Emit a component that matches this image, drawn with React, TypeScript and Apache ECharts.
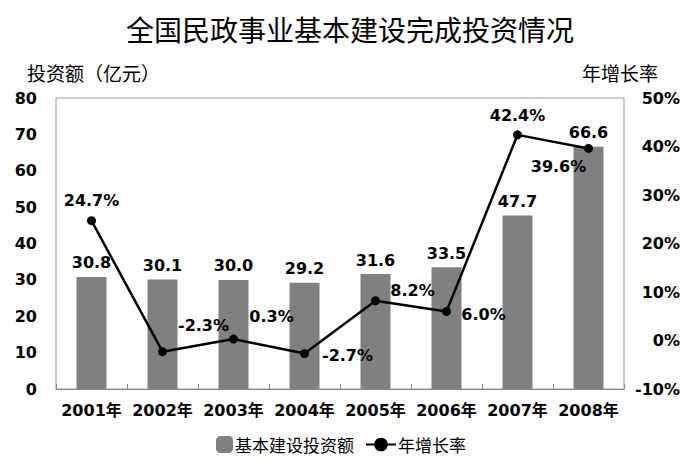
import React, { useEffect, useRef } from "react";
import * as echarts from "echarts";

const years = ["2001年", "2002年", "2003年", "2004年", "2005年", "2006年", "2007年", "2008年"];
const investment = [30.8, 30.1, 30.0, 29.2, 31.6, 33.5, 47.7, 66.6];
const growthRate = [24.7, -2.3, 0.3, -2.7, 8.2, 6.0, 42.4, 39.6];
const leftTicks = { min: 0, max: 80, interval: 10 };
const rightTicks = { min: -10, max: 50, interval: 10 };
const barName = "基本建设投资额";
const lineName = "年增长率";
const titleText = "全国民政事业基本建设完成投资情况";
const leftAxisName = "投资额（亿元）";
const rightAxisName = "年增长率";

const NUM_FONT = "'DejaVu Sans', 'Noto Sans CJK SC', sans-serif";
const CJK_FONT = "'Noto Sans CJK SC', sans-serif";

export default function App() {
  const ref = useRef<HTMLDivElement>(null);
  useEffect(() => {
    if (!ref.current) return;
    const chart = echarts.init(ref.current, null, { renderer: "svg" });
    // label offsets relative to each point (layout only)
    const labelOffsets: number[][] = [
      [0, -20], [41, -26], [38, -23], [43, 2], [37, -10], [37, 3], [0, -19], [-30, 18],
    ];
    const lineData = growthRate.map((v, i) => ({
      value: v,
      label: {
        show: true,
        position: "inside",
        offset: labelOffsets[i],
        formatter: (p: any) => Number(p.value).toFixed(1) + "%",
        fontFamily: NUM_FONT,
        fontWeight: "bold",
        fontSize: 16,
        color: "#000",
      },
    }));
    chart.setOption({
      animation: false,
      backgroundColor: "#fff",
      title: {
        text: titleText,
        left: "center",
        top: 10,
        textStyle: { fontFamily: CJK_FONT, fontSize: 28, fontWeight: "normal", color: "#000" },
      },
      graphic: [
        {
          type: "text",
          left: 27,
          top: 63,
          style: { text: leftAxisName, fontFamily: CJK_FONT, fontSize: 19, fill: "#000" },
        },
        {
          type: "text",
          left: 582,
          top: 63,
          style: { text: rightAxisName, fontFamily: CJK_FONT, fontSize: 19, fill: "#000" },
        },
      ],
      legend: [
        {
          data: [barName],
          left: 211,
          top: 431,
          itemWidth: 17,
          itemHeight: 17,
          itemGap: 4,
          textStyle: { fontFamily: CJK_FONT, fontSize: 17, color: "#000", padding: [0, 0, 0, -3] },
        },
        {
          data: [lineName],
          left: 360,
          top: 431,
          itemWidth: 30,
          itemHeight: 17,
          textStyle: { fontFamily: CJK_FONT, fontSize: 17, color: "#000", padding: [0, 0, 0, -3] },
        },
      ],
      grid: {
        left: 56,
        right: 76,
        top: 98,
        bottom: 84,
        show: true,
        borderColor: "#9a9a9a",
        borderWidth: 1,
        containLabel: false,
      },
      xAxis: {
        type: "category",
        data: years,
        axisLine: { lineStyle: { color: "#8a8a8a", width: 1 } },
        axisTick: { show: true, inside: true, length: 5, lineStyle: { color: "#8a8a8a" } },
        axisLabel: {
          interval: 0,
          margin: 13,
          fontFamily: NUM_FONT,
          fontWeight: "bold",
          fontSize: 16,
          color: "#000",
        },
      },
      yAxis: [
        {
          type: "value",
          min: leftTicks.min,
          max: leftTicks.max,
          interval: leftTicks.interval,
          axisLine: { show: false },
          axisTick: { show: false },
          splitLine: { show: false },
          axisLabel: {
            margin: 19,
            fontFamily: NUM_FONT,
            fontWeight: "bold",
            fontSize: 16,
            color: "#000",
          },
        },
        {
          type: "value",
          position: "right",
          min: rightTicks.min,
          max: rightTicks.max,
          interval: rightTicks.interval,
          axisLine: { show: false },
          axisTick: { show: false },
          splitLine: { show: false },
          axisLabel: {
            formatter: "{value}%",
            align: "right",
            margin: 56,
            fontFamily: NUM_FONT,
            fontWeight: "bold",
            fontSize: 16,
            color: "#000",
          },
        },
      ],
      series: [
        {
          name: barName,
          type: "bar",
          data: investment,
          barWidth: 30,
          itemStyle: { color: "#808080" },
          label: {
            show: true,
            position: "top",
            distance: 6,
            formatter: (p: any) => Number(p.value).toFixed(1),
            fontFamily: NUM_FONT,
            fontWeight: "bold",
            fontSize: 16,
            color: "#000",
          },
        },
        {
          name: lineName,
          type: "line",
          yAxisIndex: 1,
          data: lineData,
          symbol: "circle",
          symbolSize: 9,
          itemStyle: { color: "#000" },
          lineStyle: { color: "#000", width: 2.5 },
          z: 5,
        },
      ],
    });
    return () => chart.dispose();
  }, []);
  return (
    <div
      ref={ref}
      style={{ position: "fixed", left: 0, top: 0, width: 700, height: 473, background: "#fff" }}
    />
  );
}
